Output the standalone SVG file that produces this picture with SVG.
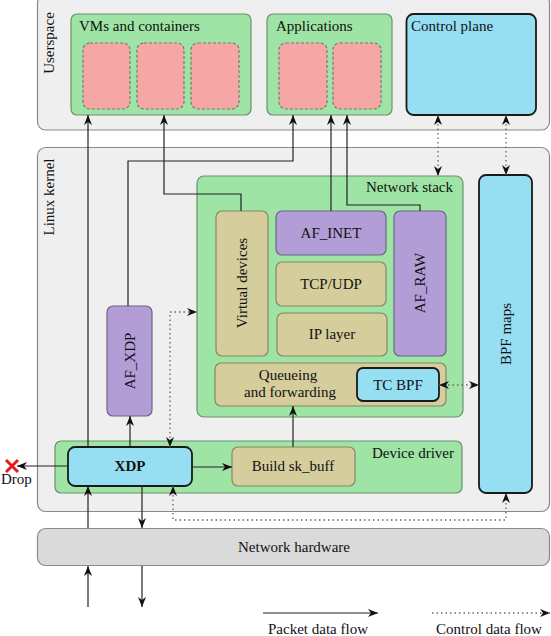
<svg xmlns="http://www.w3.org/2000/svg" width="551" height="636" viewBox="0 0 551 636">
<style>
text{font-family:"Liberation Serif","DejaVu Serif",serif;font-size:15px;fill:#111}
.outer{fill:#efefef;stroke:#8a8a8a;stroke-width:1.2}
.green{fill:#9ee4a4;stroke:#6e8f6e;stroke-width:1.2}
.pink{fill:#f7a6a6;stroke:#777;stroke-width:1.2;stroke-dasharray:3 2}
.tan{fill:#d5cd9c;stroke:#8a8660;stroke-width:1.2}
.purple{fill:#b39dd6;stroke:#6f6585;stroke-width:1.2}
.blue{fill:#96def2;stroke:#1a1a1a;stroke-width:1.8}
.hw{fill:#dadadb;stroke:#8a8a8a;stroke-width:1.2}
.flow{fill:none;stroke:#222;stroke-width:1.2}
.ctrl{fill:none;stroke:#666;stroke-width:1.3;stroke-dasharray:1.5 3}
.mid{text-anchor:middle}
</style>
<defs>
<marker id="ah" viewBox="0 0 10 8" markerWidth="10" markerHeight="8" refX="10" refY="4" orient="auto-start-reverse" markerUnits="userSpaceOnUse">
<path d="M0,0 L10,4 L0,8 L3,4 z" fill="#111"/>
</marker>
</defs>

<g id="userspace">
<rect class="outer" x="37.5" y="-5" width="512" height="135" rx="8"/>
<text transform="translate(54,43) rotate(-90)" class="mid">Userspace</text>
</g>
<g id="linux-kernel">
<rect class="outer" x="37.5" y="147.5" width="512" height="364" rx="8"/>
<text transform="translate(54,197) rotate(-90)" class="mid">Linux kernel</text>
</g>
<g id="network-hardware">
<rect class="hw" x="37.5" y="528.5" width="512" height="37" rx="8"/>
<text x="294" y="552" class="mid">Network hardware</text>
</g>

<g id="vms-containers">
<rect class="green" x="71" y="14" width="180" height="101" rx="6"/>
<text x="79" y="31">VMs and containers</text>
<rect class="pink" x="83" y="43" width="47" height="66" rx="7"/>
<rect class="pink" x="137" y="43" width="47" height="66" rx="7"/>
<rect class="pink" x="191" y="43" width="48" height="66" rx="7"/>
</g>
<g id="applications">
<rect class="green" x="267" y="14" width="125" height="101" rx="6"/>
<text x="276" y="31">Applications</text>
<rect class="pink" x="279" y="43" width="48" height="66" rx="7"/>
<rect class="pink" x="333" y="43" width="48" height="66" rx="7"/>
</g>
<g id="control-plane">
<rect class="blue" x="406.5" y="14" width="129.5" height="101" rx="7"/>
<text x="411" y="31">Control plane</text>
</g>

<g id="network-stack">
<rect class="green" x="197" y="176" width="266" height="241" rx="7"/>
<text x="453" y="192" text-anchor="end">Network stack</text>
</g>
<g id="virtual-devices">
<rect class="tan" x="216" y="211" width="52" height="145" rx="6"/>
<text transform="translate(247,283) rotate(-90)" class="mid">Virtual devices</text>
</g>
<g id="af-inet">
<rect class="purple" x="276" y="211" width="110" height="44" rx="6"/>
<text x="331" y="238" class="mid">AF_INET</text>
</g>
<g id="tcp-udp">
<rect class="tan" x="276" y="262" width="110" height="44" rx="6"/>
<text x="331" y="289" class="mid">TCP/UDP</text>
</g>
<g id="ip-layer">
<rect class="tan" x="277" y="313" width="110" height="43" rx="6"/>
<text x="332" y="339" class="mid">IP layer</text>
</g>
<g id="af-raw">
<rect class="purple" x="394" y="211" width="52" height="145" rx="6"/>
<text transform="translate(425,283) rotate(-90)" class="mid">AF_RAW</text>
</g>
<g id="queueing">
<rect class="tan" x="215" y="363" width="231" height="43" rx="6"/>
<text x="288" y="380" class="mid">Queueing</text>
<text x="290" y="397" class="mid">and forwarding</text>
</g>
<g id="tc-bpf">
<rect class="blue" x="357" y="368" width="82" height="33" rx="6"/>
<text x="398" y="390" class="mid">TC BPF</text>
</g>
<g id="bpf-maps">
<rect class="blue" x="479" y="175" width="53" height="318" rx="7"/>
<text transform="translate(511,334) rotate(-90)" class="mid">BPF maps</text>
</g>
<g id="af-xdp">
<rect class="purple" x="107" y="306" width="45" height="110" rx="6"/>
<text transform="translate(135,361) rotate(-90)" class="mid">AF_XDP</text>
</g>
<g id="device-driver">
<rect class="green" x="55" y="441" width="407" height="52" rx="6"/>
<text x="454" y="458" text-anchor="end">Device driver</text>
</g>
<g id="xdp">
<rect class="blue" x="68" y="447" width="124" height="39" rx="7"/>
<text x="130" y="471" class="mid" font-weight="bold">XDP</text>
</g>
<g id="build-skbuff">
<rect class="tan" x="232" y="447" width="123" height="39" rx="6"/>
<text x="293" y="471" class="mid">Build sk_buff</text>
</g>
<g id="drop">
<path d="M6,460 L18,472 M18,460 L6,472" stroke="#e8191a" stroke-width="3" fill="none"/>
<text x="1" y="484" font-size="10.5">Drop</text>
</g>

<g id="connectors">
<path class="flow" d="M88,447 V115" marker-end="url(#ah)"/>
<path class="flow" d="M241,211 V194 H164 V115" marker-end="url(#ah)"/>
<path class="flow" d="M128,306 V161 H293 V115" marker-end="url(#ah)"/>
<path class="flow" d="M331,211 V115" marker-end="url(#ah)"/>
<path class="flow" d="M420,211 V205 H347 V115" marker-end="url(#ah)"/>
<path class="flow" d="M130,447 V416" marker-end="url(#ah)" stroke="#555"/>
<path class="flow" d="M192,467 H232" marker-end="url(#ah)" stroke="#555" stroke-width="1.8"/>
<path class="flow" d="M293,447 V406" marker-end="url(#ah)"/>
<path class="flow" d="M68,466 H17" marker-end="url(#ah)"/>
<path class="flow" d="M88,528 V486" marker-end="url(#ah)"/>
<path class="flow" d="M142,486 V528" marker-end="url(#ah)"/>
<path class="flow" d="M88,607 V566" marker-end="url(#ah)"/>
<path class="flow" d="M142,566 V607" marker-end="url(#ah)"/>
<path class="ctrl" d="M438,115 V176" marker-start="url(#ah)" marker-end="url(#ah)"/>
<path class="ctrl" d="M506,115 V175" marker-start="url(#ah)" marker-end="url(#ah)"/>
<path class="ctrl" d="M439,385 H479" marker-start="url(#ah)" marker-end="url(#ah)"/>
<path class="ctrl" d="M170,447 V312 H197" marker-start="url(#ah)" marker-end="url(#ah)"/>
<path class="ctrl" d="M173,486 V520 H506 V493" marker-start="url(#ah)" marker-end="url(#ah)" stroke="#999"/>
</g>

<g id="legend">
<path class="flow" d="M263,613 H378" marker-end="url(#ah)"/>
<text x="318" y="634" class="mid">Packet data flow</text>
<path class="ctrl" d="M432,613 H550" marker-end="url(#ah)"/>
<text x="489" y="634" class="mid">Control data flow</text>
</g>
</svg>
